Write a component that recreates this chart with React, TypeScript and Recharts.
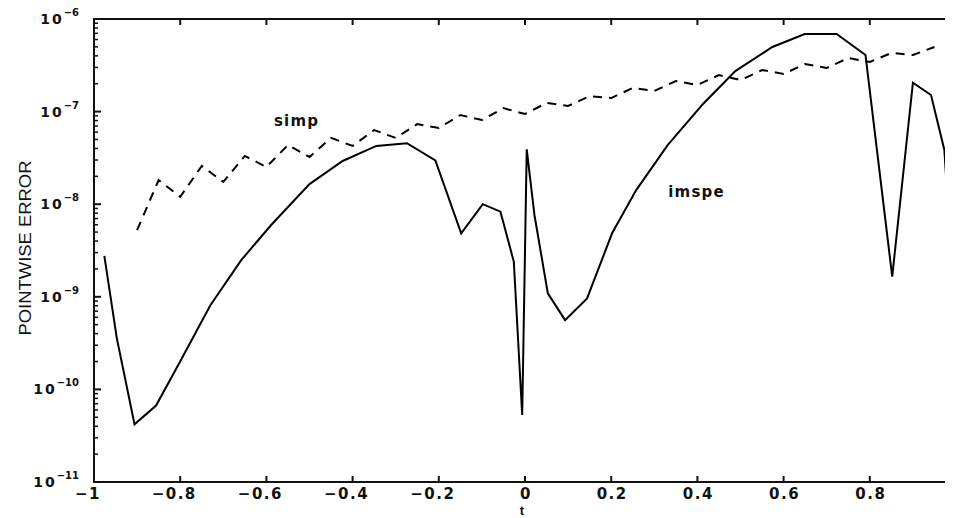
import React from 'react';
import { LineChart, Line, XAxis, YAxis, ReferenceDot, ReferenceArea, ReferenceLine } from 'recharts';

const imspeT = [-0.976, -0.947, -0.906, -0.856, -0.802, -0.73, -0.658, -0.589, -0.5, -0.423, -0.345, -0.274, -0.208, -0.148, -0.098, -0.057, -0.026, -0.0065, 0.004, 0.022, 0.053, 0.093, 0.144, 0.202, 0.258, 0.331, 0.413, 0.488, 0.574, 0.649, 0.723, 0.79, 0.852, 0.9, 0.942, 0.973, 0.99];
const imspeErr = [2.76e-9, 3.56e-10, 4.2e-11, 6.7e-11, 1.93e-10, 8.1e-10, 2.5e-9, 5.96e-9, 1.65e-8, 2.93e-8, 4.26e-8, 4.55e-8, 2.97e-8, 4.85e-9, 1.0e-8, 8.3e-9, 2.4e-9, 5.3e-11, 3.92e-8, 7.6e-9, 1.09e-9, 5.6e-10, 9.6e-10, 4.85e-9, 1.42e-8, 4.35e-8, 1.21e-7, 2.74e-7, 4.99e-7, 6.89e-7, 6.89e-7, 4.08e-7, 1.65e-9, 2.05e-7, 1.51e-7, 3.85e-8, 2.2e-9];

const simpT = [-0.9, -0.85, -0.8, -0.75, -0.7, -0.65, -0.6, -0.55, -0.5, -0.45, -0.4, -0.35, -0.3, -0.25, -0.2, -0.15, -0.1, -0.05, 0, 0.05, 0.1, 0.15, 0.2, 0.25, 0.3, 0.35, 0.4, 0.45, 0.5, 0.55, 0.6, 0.65, 0.7, 0.75, 0.8, 0.85, 0.9, 0.95];
const simpErr = [5.26e-9, 1.82e-8, 1.2e-8, 2.59e-8, 1.74e-8, 3.32e-8, 2.52e-8, 4.36e-8, 3.24e-8, 5.2e-8, 4.26e-8, 6.32e-8, 5.19e-8, 7.34e-8, 6.65e-8, 9.18e-8, 8.11e-8, 1.09e-7, 9.42e-8, 1.24e-7, 1.15e-7, 1.47e-7, 1.4e-7, 1.8e-7, 1.67e-7, 2.14e-7, 1.94e-7, 2.48e-7, 2.19e-7, 2.81e-7, 2.55e-7, 3.27e-7, 2.96e-7, 3.79e-7, 3.43e-7, 4.3e-7, 4.08e-7, 4.99e-7];

const xTicks = [-1, -0.8, -0.6, -0.4, -0.2, 0, 0.2, 0.4, 0.6, 0.8];
const xTickLabels = ['\u22121', '\u22120.8', '\u22120.6', '\u22120.4', '\u22120.2', '0', '0.2', '0.4', '0.6', '0.8'];
const yMajorExp = [-11, -10, -9, -8, -7, -6];
const yMinorMult = [2, 3, 4, 5, 6, 7, 8, 9];

const yTicks: number[] = [];
yMajorExp.forEach((e, i) => {
  yTicks.push(Math.pow(10, e));
  if (i < yMajorExp.length - 1) yMinorMult.forEach((m) => yTicks.push(m * Math.pow(10, e)));
});

const imspeData = imspeT.map((t, i) => ({ t, v: imspeErr[i] }));
const simpData = simpT.map((t, i) => ({ t, v: simpErr[i] }));

const FONT = 'DejaVu Sans';
const X_MIN = -1;
const X_MAX = 0.9907;
const Y_MIN = 1e-11;
const Y_MAX = 1e-6;
const INK = '#111';

const isMajor = (v: number) => {
  const l = Math.log10(v);
  return Math.abs(l - Math.round(l)) < 1e-6;
};

const BottomTick = (props: any) => {
  const { x, y, payload } = props;
  const idx = xTicks.indexOf(payload.value);
  const label = idx >= 0 ? xTickLabels[idx] : String(payload.value);
  const neg = payload.value < 0;
  return (
    <text x={x + (neg ? -6 : 1)} y={y + 17} textAnchor="middle" fontFamily={FONT} fontWeight="bold" fontSize={15} letterSpacing={1.5} fill={INK}>
      {label}
    </text>
  );
};

const LeftTick = (props: any) => {
  const { x, y, payload } = props;
  if (!isMajor(payload.value)) return <g />;
  const e = Math.round(Math.log10(payload.value));
  return (
    <text x={x - 15} y={y + 5} textAnchor="end" fontFamily={FONT} fontWeight="bold" fill={INK}>
      <tspan fontSize={14} letterSpacing={2}>10</tspan>
      <tspan fontSize={10} dy={-8}>{'\u2212' + Math.abs(e)}</tspan>
    </text>
  );
};

// vertical reference line -> short inward marks at bottom and top edges
const XTickShape = (props: any) => {
  const { x1, y1, x2, y2 } = props;
  const top = Math.min(y1, y2);
  const bot = Math.max(y1, y2);
  return (
    <g>
      <path d={`M${x1},${bot}L${x1},${bot - 6}`} stroke={INK} strokeWidth={2} fill="none" />
      <path d={`M${x2},${top}L${x2},${top + 6}`} stroke={INK} strokeWidth={2} fill="none" />
    </g>
  );
};

// horizontal reference line -> short inward marks at left and right edges
const YTickShape = (major: boolean) => (props: any) => {
  const { x1, y1, x2, y2 } = props;
  const left = Math.min(x1, x2);
  const right = Math.max(x1, x2);
  const len = major ? 7 : 4;
  const w = major ? 2 : 1.5;
  return (
    <g>
      <path d={`M${left},${y1}L${left + len},${y1}`} stroke={INK} strokeWidth={w} fill="none" />
      <path d={`M${right},${y2}L${right - len},${y2}`} stroke={INK} strokeWidth={w} fill="none" />
    </g>
  );
};

const YTitle = () => (
  <text x={17} y={240} transform="rotate(-90, 17, 240)" textAnchor="middle" dominantBaseline="central" fontFamily="Liberation Sans" fontSize={17} fill={INK} textLength={175} lengthAdjust="spacingAndGlyphs">
    POINTWISE ERROR
  </text>
);

const XTitle = () => (
  <text x={514} y={507} textAnchor="middle" fontFamily="Liberation Sans" fontWeight="bold" fontSize={13} fill={INK}>
    t
  </text>
);

const annot = (text: string) => (props: any) => {
  const vb = props.viewBox || {};
  const cx = (vb.x ?? 0) + (vb.width ?? 0) / 2;
  const cy = (vb.y ?? 0) + (vb.height ?? 0) / 2;
  return (
    <text x={cx} y={cy + 5} textAnchor="middle" fontFamily={FONT} fontWeight="bold" fontSize={15} letterSpacing={1.2} fill={INK}>
      {text}
    </text>
  );
};

export default function App() {
  return (
    <LineChart width={945} height={510} margin={{ top: 11, right: 1, bottom: 0, left: 0 }} style={{ background: '#fff' }}>
      <XAxis
        xAxisId="b"
        dataKey="t"
        type="number"
        domain={[X_MIN, X_MAX]}
        allowDataOverflow
        ticks={xTicks}
        interval={0}
        height={36}
        tickSize={0}
        tickMargin={0}
        tickLine={false}
        axisLine={false}
        tick={<BottomTick />}
        label={<XTitle />}
      />
      <YAxis
        yAxisId="l"
        type="number"
        scale="log"
        domain={[Y_MIN, Y_MAX]}
        allowDataOverflow
        ticks={yTicks}
        interval={0}
        width={86}
        tickSize={0}
        tickMargin={0}
        tickLine={false}
        axisLine={false}
        tick={<LeftTick />}
        label={<YTitle />}
      />
      <ReferenceArea
        xAxisId="b"
        yAxisId="l"
        x1={X_MIN}
        x2={X_MAX}
        y1={Y_MIN}
        y2={Y_MAX}
        fill="none"
        stroke={INK}
        strokeWidth={2}
        ifOverflow="visible"
      />
      {xTicks.map((t) => (
        <ReferenceLine key={'xt' + t} xAxisId="b" yAxisId="l" x={t} ifOverflow="visible" stroke={INK} shape={XTickShape} />
      ))}
      {yTicks.map((v) => (
        <ReferenceLine key={'yt' + v} xAxisId="b" yAxisId="l" y={v} ifOverflow="visible" stroke={INK} shape={YTickShape(isMajor(v))} />
      ))}
      <Line
        xAxisId="b"
        yAxisId="l"
        data={simpData}
        dataKey="v"
        type="linear"
        stroke="#000"
        strokeWidth={2}
        strokeDasharray="9 7"
        dot={false}
        isAnimationActive={false}
      />
      <Line
        xAxisId="b"
        yAxisId="l"
        data={imspeData}
        dataKey="v"
        type="linear"
        stroke="#000"
        strokeWidth={2}
        dot={false}
        isAnimationActive={false}
      />
      <ReferenceDot xAxisId="b" yAxisId="l" x={-0.53} y={7.9e-8} r={1} fill="none" stroke="none" label={annot('simp')} />
      <ReferenceDot xAxisId="b" yAxisId="l" x={0.398} y={1.355e-8} r={1} fill="none" stroke="none" label={annot('imspe')} />
    </LineChart>
  );
}
